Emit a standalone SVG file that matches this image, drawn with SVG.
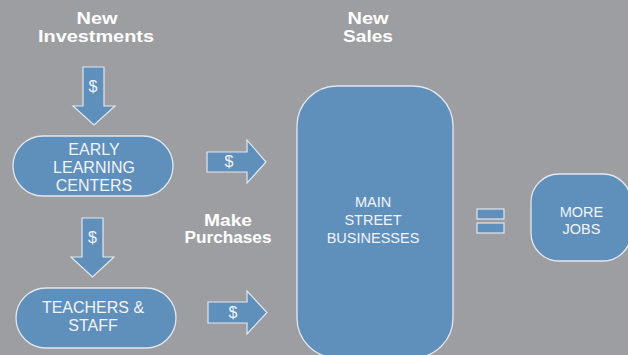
<svg xmlns="http://www.w3.org/2000/svg" width="628" height="355" viewBox="0 0 628 355">
  <defs>
    <style>
      .node { fill: #5f8fbb; stroke: #e3e7ee; stroke-width: 1.3; }
      .flow { fill: #5f8fbb; stroke: #e3e7ee; stroke-width: 1.2; }
      .head { font-family: "Liberation Sans", Arial, sans-serif; font-weight: bold; font-size: 16px; fill: #ffffff; text-anchor: middle; }
      .label { font-family: "Liberation Sans", Arial, sans-serif; font-size: 16px; fill: #f2f4f8; text-anchor: middle; }
      .small { font-family: "Liberation Sans", Arial, sans-serif; font-size: 14.5px; fill: #f2f4f8; text-anchor: middle; }
      .money { font-family: "Liberation Sans", Arial, sans-serif; font-size: 16px; fill: #f2f4f8; text-anchor: middle; }
    </style>
  </defs>

  <rect width="628" height="355" fill="#9d9ea2"/>

  <!-- headings -->
  <g id="heading-investments">
    <text class="head" x="97" y="24" textLength="41" lengthAdjust="spacingAndGlyphs">New</text>
    <text class="head" x="96" y="41.5" textLength="116" lengthAdjust="spacingAndGlyphs">Investments</text>
  </g>
  <g id="heading-sales">
    <text class="head" x="368" y="24" textLength="41" lengthAdjust="spacingAndGlyphs">New</text>
    <text class="head" x="368" y="42" textLength="50" lengthAdjust="spacingAndGlyphs">Sales</text>
  </g>
  <g id="heading-purchases">
    <text class="head" x="228" y="226" textLength="48" lengthAdjust="spacingAndGlyphs">Make</text>
    <text class="head" x="228" y="243" textLength="87" lengthAdjust="spacingAndGlyphs">Purchases</text>
  </g>

  <!-- money flows -->
  <g id="connectors">
    <g id="flow-investment">
      <path class="flow" d="M83,67 H104 V106 H115 L94,125 L73,106 H83 Z"/>
      <text class="money" x="93" y="92">$</text>
    </g>
    <g id="flow-salaries">
      <path class="flow" d="M82,218 H103 V257 H114 L92.5,277 L71,257 H82 Z"/>
      <text class="money" x="92.5" y="243">$</text>
    </g>
    <g id="flow-centers-purchases">
      <path class="flow" d="M207,152 H247 V140 L266,162 L247,183 V172 H207 Z"/>
      <text class="money" x="229" y="167">$</text>
    </g>
    <g id="flow-staff-purchases">
      <path class="flow" d="M208,302 H247 V291 L267,312.5 L247,334 V323 H208 Z"/>
      <text class="money" x="233" y="318">$</text>
    </g>
    <g id="equals">
      <rect class="flow" x="477" y="209" width="27" height="10"/>
      <rect class="flow" x="477" y="223" width="27" height="10"/>
    </g>
  </g>

  <!-- nodes -->
  <g id="early-learning-centers">
    <rect class="node" x="13" y="136" width="160" height="60" rx="30" ry="30"/>
    <text class="label" x="94" y="155">EARLY</text>
    <text class="label" x="94" y="173">LEARNING</text>
    <text class="label" x="94" y="190.5">CENTERS</text>
  </g>
  <g id="teachers-staff">
    <rect class="node" x="16" y="288" width="160" height="60" rx="30" ry="30"/>
    <text class="label" x="93" y="313">TEACHERS &amp;</text>
    <text class="label" x="93" y="330.5">STAFF</text>
  </g>
  <g id="main-street-businesses">
    <rect class="node" x="297" y="86" width="156" height="272" rx="40" ry="40"/>
    <text class="small" x="373" y="207">MAIN</text>
    <text class="small" x="373" y="225">STREET</text>
    <text class="small" x="373" y="243">BUSINESSES</text>
  </g>
  <g id="more-jobs">
    <rect class="node" x="531" y="174" width="100" height="87" rx="28" ry="28"/>
    <text class="small" x="581.5" y="217">MORE</text>
    <text class="small" x="581.5" y="233.5">JOBS</text>
  </g>
</svg>
